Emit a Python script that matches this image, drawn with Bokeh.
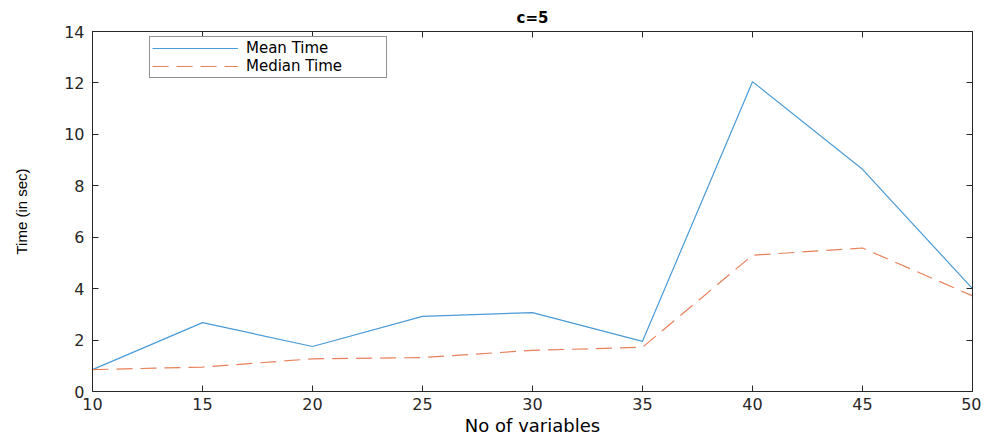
from bokeh.plotting import figure
from bokeh.models import FixedTicker, LinearAxis, Range1d, Legend, LegendItem
from bokeh.embed import file_html
from bokeh.resources import INLINE

n_vars = [10, 15, 20, 25, 30, 35, 40, 45, 50]
mean_time = [0.85, 2.68, 1.75, 2.92, 3.07, 1.95, 12.05, 8.64, 4.0]
median_time = [0.85, 0.95, 1.27, 1.32, 1.60, 1.72, 5.30, 5.58, 3.72]
x_ticks = [10, 15, 20, 25, 30, 35, 40, 45, 50]
y_ticks = [0, 2, 4, 6, 8, 10, 12, 14]

FONT = "DejaVu Sans"
AX = "#262626"

p = figure(width=981, height=438, output_backend="svg", toolbar_location=None,
           x_range=Range1d(10, 50), y_range=Range1d(0, 14),
           min_border_left=92, min_border_right=9, min_border_top=31, min_border_bottom=40,
           x_axis_location=None, y_axis_location=None)
p.title.text = "c=5"
p.title.align = "center"
p.title.text_font = FONT
p.title.text_font_size = "15px"
p.title.text_font_style = "bold"
p.title.text_color = "#000000"
p.grid.visible = False
p.outline_line_color = None

def style(ax, labels=True):
    ax.axis_line_color = AX
    ax.major_tick_line_color = AX
    ax.major_tick_in = 6
    ax.major_tick_out = 0
    ax.minor_tick_line_color = None
    ax.major_label_text_font = FONT
    ax.major_label_text_font_size = "16px"
    ax.major_label_text_color = AX
    if not labels:
        ax.major_label_text_color = None
        ax.major_label_text_font_size = "0px"

xb = LinearAxis(ticker=FixedTicker(ticks=x_ticks), axis_label="No of variables")
style(xb)
xb.major_label_standoff = 6
xb.axis_label_text_font = FONT
xb.axis_label_text_font_size = "18px"
xb.axis_label_text_font_style = "normal"
xb.axis_label_text_color = "#000000"
xb.axis_label_standoff = 2
p.add_layout(xb, "below")

yl = LinearAxis(ticker=FixedTicker(ticks=y_ticks), axis_label="Time (in sec)")
style(yl)
yl.major_label_standoff = 8
yl.axis_label_text_font = "Liberation Sans"
yl.axis_label_text_font_size = "15px"
yl.axis_label_text_font_style = "normal"
yl.axis_label_text_color = "#000000"
yl.axis_label_standoff = 31
p.add_layout(yl, "left")

xt = LinearAxis(ticker=FixedTicker(ticks=x_ticks))
style(xt, labels=False)
p.add_layout(xt, "above")
yr = LinearAxis(ticker=FixedTicker(ticks=y_ticks))
style(yr, labels=False)
p.add_layout(yr, "right")

r1 = p.line(n_vars, mean_time, line_color="#4a9bd6", line_width=1.2)
r2 = p.line(n_vars, median_time, line_color="#e8805a", line_width=1.2, line_dash="16 8")

leg = Legend(items=[LegendItem(label="Mean Time", renderers=[r1]),
                    LegendItem(label="Median Time", renderers=[r2])],
             location=(57, 313))
leg.border_line_color = "#222222"
leg.border_line_width = 1
leg.background_fill_color = "white"
leg.background_fill_alpha = 1
leg.glyph_width = 86
leg.glyph_height = 16
leg.label_height = 16
leg.label_width = 138
leg.label_standoff = 8
leg.padding = 2
leg.spacing = 0
leg.margin = 0
leg.label_text_font = FONT
leg.label_text_font_size = "15px"
leg.label_text_color = "#000000"
p.add_layout(leg, "center")

open("out.html", "w").write(file_html(p, INLINE))
